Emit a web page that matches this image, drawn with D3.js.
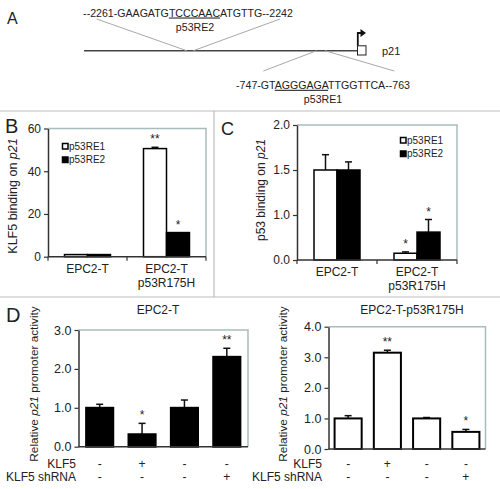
<!DOCTYPE html>
<html><head><meta charset="utf-8">
<script src="https://cdn.jsdelivr.net/npm/d3@7"></script>
<style>
body{margin:0;background:#fff}
text{font-family:"Liberation Sans",Arial,sans-serif;fill:#222}
</style>
</head><body>
<svg id="chart" width="500" height="489"></svg>
<script>
// ---------- DATA ----------
// Panel A
const seqTop = ["--2261-GAAGATG", "TCCCAAC", "ATGTTG--2242"];
const seqBottom = ["-747-GT", "AGGGAGA", "TTGGTTCA--763"];
const siteNames = ["p53RE2", "p53RE1"];
const geneName = "p21";
// Panels B and C
const bcCategories = ["EPC2-T", "EPC2-T|p53R175H"];
const seriesNames = ["p53RE1", "p53RE2"];
const klf5RE1 = [1.0, 50.6];
const klf5RE1Err = [0, 0.6];
const klf5RE2 = [1.0, 11.3];
const klf5RE2Err = [0, 0];
const klf5Stars = [["", ""], ["**", "*"]];
const klf5Ticks = [0, 20, 40, 60];
const p53RE1 = [1.5, 0.15];
const p53RE1Err = [0.17, 0.03];
const p53RE2 = [1.5, 0.62];
const p53RE2Err = [0.09, 0.28];
const p53Stars = [["", ""], ["*", "*"]];
const p53Ticks = [0, 1.0, 1.5, 2.0];
// Panel D
const dRowLabels = ["KLF5", "KLF5 shRNA"];
const dKlf5Signs = ["-", "+", "-", "-"];
const dShSigns = ["-", "-", "-", "+"];
const dLeftTitle = "EPC2-T";
const dLeftValues = [1.0, 0.32, 1.0, 2.31];
const dLeftErr = [0.09, 0.28, 0.2, 0.22];
const dLeftStars = ["", "*", "", "**"];
const dLeftTicks = [0, 1, 2, 3];
const dRightTitle = "EPC2-T-p53R175H";
const dRightValues = [1.0, 3.15, 1.0, 0.56];
const dRightErr = [0.09, 0.08, 0.03, 0.08];
const dRightStars = ["", "**", "", "*"];
const dRightTicks = [0, 1, 2, 3, 4];

// ---------- DRAW ----------
const svg = d3.select("#chart");
svg.append("rect").attr("width", 500).attr("height", 489).attr("fill", "#fff");
const frameCol = "#bdbdbd", plotFrameCol = "#a9bcbc", axisCol = "#333";

// panel frames
svg.append("line").attr("x1", 0).attr("x2", 500).attr("y1", 111).attr("y2", 111).attr("stroke", frameCol).attr("stroke-width", 1.2);
svg.append("line").attr("x1", 0).attr("x2", 500).attr("y1", 297).attr("y2", 297).attr("stroke", frameCol).attr("stroke-width", 1.2);
svg.append("line").attr("x1", 214).attr("x2", 214).attr("y1", 111).attr("y2", 297).attr("stroke", frameCol).attr("stroke-width", 1.2);

function panelLetter(t, x, y, size) {
  svg.append("text").attr("x", x).attr("y", y).attr("font-size", size).text(t);
}
panelLetter("A", 7, 24, 16);
panelLetter("B", 5, 133, 20);
panelLetter("C", 221, 135, 18);
panelLetter("D", 6, 322, 20);

// ---------- Panel A ----------
(function () {
  const g = svg.append("g");
  const lineY = 50.7;
  const xs = d3.scaleLinear().domain([0, 1]).range([84, 357]);
  g.append("line").attr("x1", xs(0)).attr("x2", xs(1)).attr("y1", lineY).attr("y2", lineY).attr("stroke", "#444").attr("stroke-width", 1.6);
  const gray = "#a8a8a8";
  const conn = [
    [[96.7, 19], [186.7, lineY]], [[280, 19], [193.3, lineY]],
    [[316.7, lineY], [263.3, 71]], [[325, lineY], [394.3, 71]]
  ];
  conn.forEach(c => g.append("line").attr("x1", c[0][0]).attr("y1", c[0][1]).attr("x2", c[1][0]).attr("y2", c[1][1]).attr("stroke", gray).attr("stroke-width", 1));

  function seq(parts, cx, y) {
    const t = g.append("text").attr("x", cx).attr("y", y).attr("font-size", 10.6).attr("text-anchor", "middle");
    parts.forEach((p, i) => {
      const ts = t.append("tspan").text(p);
      if (i === 1) ts.attr("text-decoration", "underline");
    });
  }
  seq(seqTop, 188, 16.5);
  g.append("text").attr("x", 195).attr("y", 30.5).attr("font-size", 10.6).attr("text-anchor", "middle").text(siteNames[0]);
  seq(seqBottom, 323, 88.8);
  g.append("text").attr("x", 323).attr("y", 102.8).attr("font-size", 10.6).attr("text-anchor", "middle").text(siteNames[1]);
  // gene box and arrow
  g.append("rect").attr("x", 357.5).attr("y", 45.8).attr("width", 8.5).attr("height", 9.2).attr("fill", "#fff").attr("stroke", "#222").attr("stroke-width", 1);
  g.append("path").attr("d", "M357.8,45.8 V33 H361.5").attr("fill", "none").attr("stroke", "#111").attr("stroke-width", 1.8);
  g.append("path").attr("d", "M360.5,29 L366,33 L360.5,37 Z").attr("fill", "#111");
  g.append("text").attr("x", 382).attr("y", 54.5).attr("font-size", 11).text(geneName);
})();

// ---------- helpers ----------
function drawYAxis(g, y, ticks, fmt, x0, fs) {
  const ax = g.append("g").attr("transform", `translate(${x0},0)`)
    .call(d3.axisLeft(y).tickValues(ticks).tickFormat(fmt).tickSize(4).tickSizeOuter(0).tickPadding(3));
  ax.select(".domain").attr("stroke", axisCol).attr("stroke-width", 1.5);
  ax.selectAll(".tick line").attr("stroke", axisCol).attr("stroke-width", 1.2);
  ax.selectAll(".tick text").attr("font-size", fs).attr("fill", "#222").attr("font-family", '"Liberation Sans",Arial,sans-serif');
  return ax;
}
function plotFrame(g, x0, x1, yTop, y0) {
  g.append("path").attr("d", `M${x0},${yTop} H${x1} V${y0}`).attr("fill", "none").attr("stroke", plotFrameCol).attr("stroke-width", 1.5);
}
function yTitle(g, cx, cy, pre, ital, post, fs) {
  const t = g.append("text").attr("transform", `translate(${cx},${cy}) rotate(-90)`).attr("text-anchor", "middle").attr("dominant-baseline", "middle").attr("font-size", fs);
  t.append("tspan").text(pre);
  t.append("tspan").attr("font-style", "italic").text(ital);
  if (post) t.append("tspan").text(post);
}
function errorBar(g, cx, yv, ye, cap) {
  g.append("line").attr("x1", cx).attr("x2", cx).attr("y1", yv).attr("y2", ye).attr("stroke", "#111").attr("stroke-width", 1.5);
  g.append("line").attr("x1", cx - cap / 2).attr("x2", cx + cap / 2).attr("y1", ye).attr("y2", ye).attr("stroke", "#111").attr("stroke-width", 1.5);
}

// ---------- Panels B and C ----------
function groupedPanel(cfg) {
  const g = svg.append("g");
  const x = d3.scaleBand().domain(bcCategories).range([cfg.x0, cfg.x1]);
  const xs = d3.scaleBand().domain(seriesNames).range([-23, 23]);
  const y = cfg.y;
  plotFrame(g, cfg.x0, cfg.x1, y(cfg.ticks[cfg.ticks.length - 1]), y(0));
  const vals = [cfg.v1, cfg.v2], errs = [cfg.e1, cfg.e2];
  bcCategories.forEach((c, i) => {
    seriesNames.forEach((s, j) => {
      const bx = x(c) + x.bandwidth() / 2 + xs(s);
      const v = vals[j][i], e = errs[j][i];
      if (e > 0) errorBar(g, bx + xs.bandwidth() / 2, y(v), y(v + e), 7);
      g.append("rect").attr("x", bx).attr("y", y(v)).attr("width", xs.bandwidth()).attr("height", y(0) - y(v))
        .attr("fill", j === 0 ? "#fff" : "#000").attr("stroke", "#000").attr("stroke-width", 1.5);
      const st = cfg.stars[i][j];
      if (st) g.append("text").attr("x", bx + xs.bandwidth() / 2).attr("y", y(v + e) - 4).attr("text-anchor", "middle").attr("font-size", 12).attr("fill", "#555").text(st);
    });
    const lines = c.split("|");
    lines.forEach((l, k) => g.append("text").attr("x", x(c) + x.bandwidth() / 2).attr("y", y(0) + 16 + k * 14).attr("text-anchor", "middle").attr("font-size", 12).text(l));
  });
  // x axis with boundary ticks
  g.append("line").attr("x1", cfg.x0).attr("x2", cfg.x1).attr("y1", y(0)).attr("y2", y(0)).attr("stroke", axisCol).attr("stroke-width", 1.5);
  const bounds = bcCategories.map(c => x(c)).concat([cfg.x1]);
  bounds.forEach(b => g.append("line").attr("x1", b).attr("x2", b).attr("y1", y(0)).attr("y2", y(0) + 4).attr("stroke", axisCol).attr("stroke-width", 1.2));
  drawYAxis(g, y, cfg.ticks, cfg.fmt, cfg.x0, 12);
  yTitle(g, cfg.titleX, cfg.titleY, cfg.title[0], "p21", "", cfg.titleFs);
  // legend
  seriesNames.forEach((s, j) => {
    g.append("rect").attr("x", cfg.legX).attr("y", cfg.legY + j * 13.5 - 6).attr("width", 5.5).attr("height", 5.5)
      .attr("fill", j === 0 ? "#fff" : "#000").attr("stroke", "#000").attr("stroke-width", 1.5);
    g.append("text").attr("x", cfg.legX + 6.5).attr("y", cfg.legY + j * 13.5).attr("font-size", 10).text(s);
  });
}
groupedPanel({
  x0: 48, x1: 206, y: d3.scaleLinear().domain([0, 60]).range([256.7, 128.5]),
  ticks: klf5Ticks, fmt: d3.format("d"), v1: klf5RE1, v2: klf5RE2, e1: klf5RE1Err, e2: klf5RE2Err, stars: klf5Stars,
  title: ["KLF5 binding on "], titleX: 14, titleY: 196, titleFs: 12.5, legX: 62.5, legY: 149.5
});
groupedPanel({
  x0: 297, x1: 457, y: d3.scaleLinear().domain(p53Ticks).range([260, 215, 170, 125]),
  ticks: p53Ticks, fmt: d3.format(".1f"), v1: p53RE1, v2: p53RE2, e1: p53RE1Err, e2: p53RE2Err, stars: p53Stars,
  title: ["p53 binding on "], titleX: 262, titleY: 190, titleFs: 12, legX: 400.5, legY: 143.5
});

// ---------- Panel D ----------
function dPanel(cfg) {
  const g = svg.append("g");
  const idx = d3.range(cfg.values.length);
  const x = d3.scaleBand().domain(idx).range([cfg.x0, cfg.x1]).paddingInner(cfg.pad).paddingOuter(cfg.pad / 2);
  const y = d3.scaleLinear().domain([0, cfg.ticks[cfg.ticks.length - 1]]).range([cfg.y0, cfg.yTop]);
  plotFrame(g, cfg.x0, cfg.x1, cfg.yTop, cfg.y0);
  idx.forEach(i => {
    const v = cfg.values[i], e = cfg.errs[i];
    const cx = x(i) + x.bandwidth() / 2;
    errorBar(g, cx, y(v), y(v + e), 7);
    g.append("rect").attr("x", x(i)).attr("y", y(v)).attr("width", x.bandwidth()).attr("height", y(0) - y(v))
      .attr("fill", cfg.fill).attr("stroke", "#000").attr("stroke-width", 2);
    if (cfg.stars[i]) g.append("text").attr("x", cx).attr("y", y(v + e) - 4).attr("text-anchor", "middle").attr("font-size", 12).attr("fill", "#555").text(cfg.stars[i]);
    g.append("text").attr("x", cx).attr("y", 467.5).attr("text-anchor", "middle").attr("font-size", 12).text(dKlf5Signs[i]);
    g.append("text").attr("x", cx).attr("y", 481).attr("text-anchor", "middle").attr("font-size", 12).text(dShSigns[i]);
  });
  g.append("line").attr("x1", cfg.x0).attr("x2", cfg.x1).attr("y1", cfg.y0).attr("y2", cfg.y0).attr("stroke", axisCol).attr("stroke-width", 1.5);
  drawYAxis(g, y, cfg.ticks, d3.format(".1f"), cfg.x0, 12.5);
  yTitle(g, cfg.titleX, 384, "Relative ", "p21", " promoter activity", 11.8);
  g.append("text").attr("x", cfg.labelX).attr("y", 467.5).attr("text-anchor", "end").attr("font-size", 12).text(dRowLabels[0]);
  g.append("text").attr("x", cfg.labelX).attr("y", 481).attr("text-anchor", "end").attr("font-size", 12).text(dRowLabels[1]);
  g.append("text").attr("x", cfg.headX).attr("y", 314).attr("text-anchor", "middle").attr("font-size", 12).text(cfg.head);
}
dPanel({
  x0: 78.5, x1: 248, yTop: 330, y0: 446.7, pad: 0.36, values: dLeftValues, errs: dLeftErr, stars: dLeftStars,
  ticks: dLeftTicks, fill: "#000", titleX: 35, labelX: 76, headX: 158, head: dLeftTitle
});
dPanel({
  x0: 328.5, x1: 485.5, yTop: 326.7, y0: 449, pad: 0.31, values: dRightValues, errs: dRightErr, stars: dRightStars,
  ticks: dRightTicks, fill: "#fff", titleX: 284, labelX: 322, headX: 412, head: dRightTitle
});
</script>
</body></html>
